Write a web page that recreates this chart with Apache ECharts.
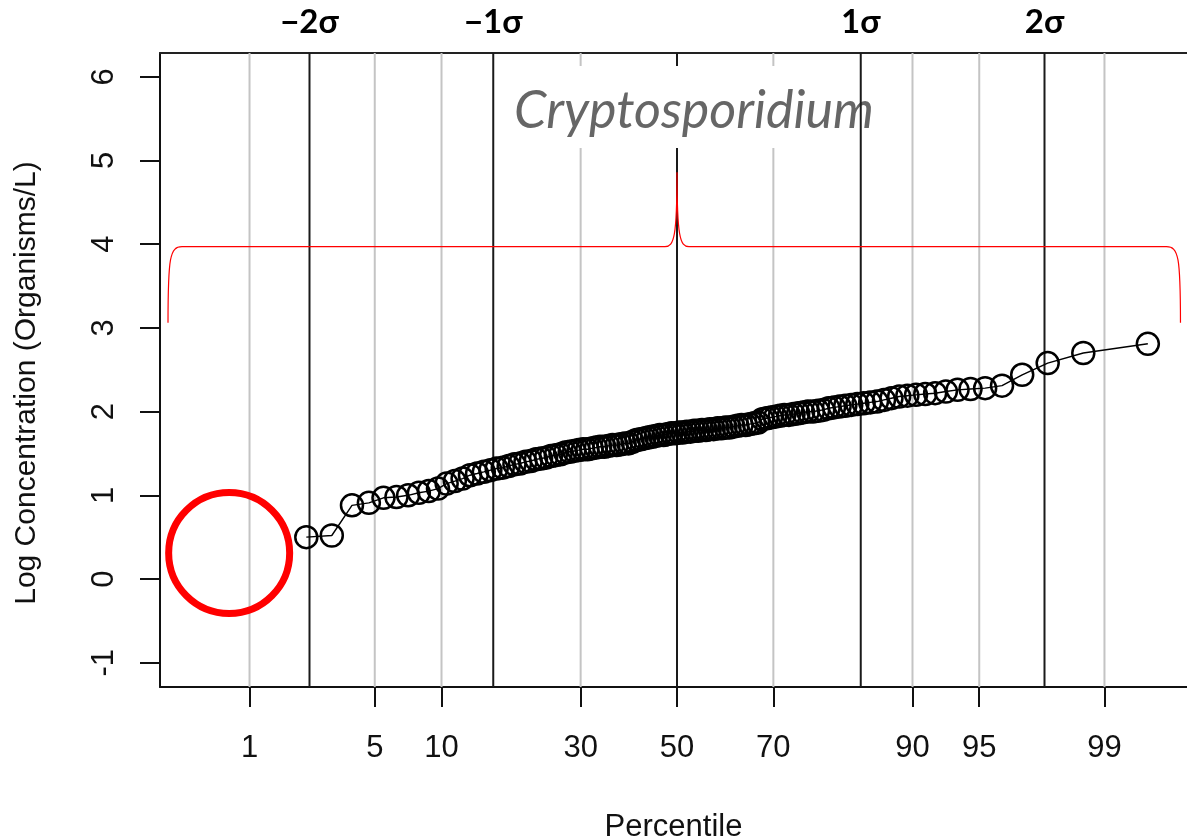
<!DOCTYPE html>
<html>
<head>
<meta charset="utf-8">
<title>Cryptosporidium probability plot</title>
<script src="https://cdn.jsdelivr.net/npm/echarts@6/dist/echarts.min.js"></script>
<style>
  html, body { margin: 0; padding: 0; background: #fff; }
  #chart { width: 1187px; height: 838px; }
</style>
</head>
<body>
<div id="chart"></div>
<script>
// Percentile tick labels on the probability (normal-score) axis
const percentileTicks = [1, 5, 10, 30, 50, 70, 90, 95, 99];
// Standard-deviation reference lines and their labels
const sigmaTicks = [-2, -1, 1, 2];
const sigmaLabels = ['\u22122\u03c3', '\u22121\u03c3', '1\u03c3', '2\u03c3'];
// Log concentration axis ticks
const yTicks = [-1, 0, 1, 2, 3, 4, 5, 6];

// Samples: total count, and the rank of the lowest detected value
const sampleSize = 120;
const firstDetectedRank = 3;
// Sorted log10 concentrations (organisms/L) for ranks 3..120
const logConcentration = [
  0.50, 0.52, 0.88, 0.91, 0.97, 0.98, 1.00, 1.03,
  1.05, 1.08, 1.14, 1.17, 1.20, 1.24, 1.26, 1.28, 1.30, 1.32,
  1.33, 1.35, 1.37, 1.38, 1.40, 1.41, 1.43, 1.44, 1.45, 1.47,
  1.48, 1.49, 1.51, 1.52, 1.53, 1.54, 1.55, 1.55, 1.56, 1.57,
  1.58, 1.58, 1.59, 1.60, 1.60, 1.61, 1.62, 1.62, 1.64, 1.66,
  1.67, 1.68, 1.69, 1.70, 1.71, 1.72, 1.72, 1.73, 1.74, 1.74,
  1.75, 1.75, 1.76, 1.76, 1.77, 1.77, 1.78, 1.78, 1.79, 1.79,
  1.80, 1.80, 1.81, 1.81, 1.82, 1.83, 1.84, 1.84, 1.85, 1.86,
  1.87, 1.91, 1.92, 1.93, 1.94, 1.95, 1.96, 1.96, 1.97, 1.98,
  1.99, 2.00, 2.00, 2.01, 2.02, 2.04, 2.05, 2.06, 2.07, 2.08,
  2.09, 2.10, 2.11, 2.12, 2.14, 2.16, 2.18, 2.19, 2.20, 2.21,
  2.22, 2.24, 2.26, 2.27, 2.28, 2.31, 2.44, 2.58, 2.70, 2.81
];

// Annotation: where the non-detects would fall [percentile, log conc]
const censoredMark = [0.74, 0.31];
// Annotation brace: normal scores of left end, tip, right end; and its levels
const braceZ = [-2.77, 0, 2.74];
const braceLevels = [3.06, 3.97, 4.86];

const titleText = 'Cryptosporidium';
const xName = 'Percentile';
const yName = 'Log Concentration (Organisms/L)';

// Inverse standard normal CDF (Acklam's rational approximation)
function qnorm(p) {
  const a = [-3.969683028665376e+01, 2.209460984245205e+02, -2.759285104469687e+02,
             1.383577518672690e+02, -3.066479806614716e+01, 2.506628277459239e+00];
  const b = [-5.447609879822406e+01, 1.615858368580409e+02, -1.556989798598866e+02,
             6.680131188771972e+01, -1.328068155288572e+01];
  const c = [-7.784894002430293e-03, -3.223964580411365e-01, -2.400758277161838e+00,
             -2.549732539343734e+00, 4.374664141464968e+00, 2.938163982698783e+00];
  const d = [7.784695709041462e-03, 3.224671290700398e-01, 2.445134137142996e+00,
             3.754408661907416e+00];
  const pl = 0.02425, ph = 1 - pl;
  let q, r;
  if (p < pl) {
    q = Math.sqrt(-2 * Math.log(p));
    return (((((c[0]*q+c[1])*q+c[2])*q+c[3])*q+c[4])*q+c[5]) /
           ((((d[0]*q+d[1])*q+d[2])*q+d[3])*q+1);
  }
  if (p <= ph) {
    q = p - 0.5; r = q * q;
    return (((((a[0]*r+a[1])*r+a[2])*r+a[3])*r+a[4])*r+a[5])*q /
           (((((b[0]*r+b[1])*r+b[2])*r+b[3])*r+b[4])*r+1);
  }
  q = Math.sqrt(-2 * Math.log(1 - p));
  return -(((((c[0]*q+c[1])*q+c[2])*q+c[3])*q+c[4])*q+c[5]) /
          ((((d[0]*q+d[1])*q+d[2])*q+d[3])*q+1);
}

// Blom plotting position of a rank, as a normal score
function rankScore(rank) {
  return qnorm((rank - 0.375) / (sampleSize + 0.25));
}

const pctZ = percentileTicks.map(p => qnorm(p / 100));
const points = logConcentration.map((v, i) => [rankScore(firstDetectedRank + i), v]);

const X_MIN = -2.8136, X_MAX = 2.7755;
const Y_MIN = -1.29, Y_MAX = 6.284;

// percentile grid lines (grey) plus the median line (black)
const greyLines = pctZ.map((z, i) => [z, percentileTicks[i] === 50 ? 1 : 0]);
const sigmaLines = sigmaTicks.map(s => [s, 0]);

function verticalLine(color) {
  return function (params, api) {
    const z = api.value(0);
    const isMedian = api.value(1) === 1;
    const top = api.coord([z, Y_MAX]);
    const bottom = api.coord([z, Y_MIN]);
    return {
      type: 'line',
      shape: { x1: top[0], y1: top[1], x2: bottom[0], y2: bottom[1] },
      style: { stroke: isMedian ? '#1a1a1a' : color, lineWidth: 2 }
    };
  };
}

function labelFor(values, labels, v) {
  const i = values.findIndex(t => Math.abs(t - v) < 1e-6);
  return i >= 0 ? String(labels[i]) : '';
}

const chart = echarts.init(document.getElementById('chart'), null, { renderer: 'canvas' });

const axisFont = 'Liberation Sans, Arial, Helvetica, sans-serif';

chart.setOption({
  animation: false,
  backgroundColor: '#ffffff',
  title: {
    text: titleText,
    left: 500,
    top: 66,
    z: 2,
    padding: [19, 14, 11, 14],
    backgroundColor: '#ffffff',
    textStyle: {
      fontFamily: 'Lato, sans-serif',
      fontStyle: 'italic',
      fontWeight: 'normal',
      fontSize: 52,
      color: '#666666'
    }
  },
  grid: {
    left: 160, right: 0, top: 53, bottom: 151,
    containLabel: false,
    outerBoundsMode: 'none'
  },
  xAxis: [
    {
      type: 'value',
      position: 'bottom',
      min: X_MIN,
      max: X_MAX,
      name: xName,
      nameLocation: 'middle',
      nameGap: 125,
      nameTextStyle: { fontFamily: axisFont, fontSize: 31, color: '#111' },
      axisLine: { show: true, onZero: false, lineStyle: { color: '#111', width: 2 } },
      axisTick: { show: true, customValues: pctZ, length: 20, lineStyle: { color: '#111', width: 2 } },
      axisLabel: {
        customValues: pctZ,
        formatter: v => labelFor(pctZ, percentileTicks, v),
        fontFamily: axisFont, fontSize: 31, color: '#111', margin: 46
      },
      splitLine: { show: false }
    },
    {
      type: 'value',
      position: 'top',
      min: X_MIN,
      max: X_MAX,
      axisLine: { show: true, onZero: false, lineStyle: { color: '#222', width: 2 } },
      axisTick: { show: false },
      axisLabel: {
        customValues: sigmaTicks,
        formatter: v => labelFor(sigmaTicks, sigmaLabels, v),
        fontFamily: 'Lato, sans-serif', fontWeight: 'bold', fontSize: 33, color: '#000', margin: 14
      },
      splitLine: { show: false }
    }
  ],
  yAxis: {
    type: 'value',
    min: Y_MIN,
    max: Y_MAX,
    name: yName,
    nameLocation: 'middle',
    nameGap: 118,
    nameRotate: 90,
    nameTextStyle: { fontFamily: axisFont, fontSize: 30, color: '#111', padding: [0, 26, 0, 0] },
    axisLine: { show: true, onZero: false, lineStyle: { color: '#111', width: 2 } },
    axisTick: { show: true, customValues: yTicks, length: 20, lineStyle: { color: '#111', width: 2 } },
    axisLabel: {
      customValues: yTicks,
      rotate: 90,
      fontFamily: axisFont, fontSize: 31, color: '#111', margin: 40
    },
    splitLine: { show: false }
  },
  series: [
    {
      // percentile grid lines, under the title box
      type: 'custom',
      z: 1,
      silent: true,
      clip: true,
      renderItem: verticalLine('#c4c4c4'),
      data: greyLines
    },
    {
      // sigma reference lines, over the title box
      type: 'custom',
      z: 3,
      silent: true,
      clip: true,
      renderItem: verticalLine('#1a1a1a'),
      data: sigmaLines
    },
    {
      type: 'line',
      z: 4,
      silent: true,
      data: points,
      symbol: 'circle',
      symbolSize: 22,
      showAllSymbol: true,
      lineStyle: { color: '#000', width: 1.4 },
      itemStyle: { color: 'rgba(0,0,0,0)', borderColor: '#000', borderWidth: 2.5 }
    },
    {
      // ring around the region of non-detects
      type: 'scatter',
      z: 5,
      silent: true,
      data: [[qnorm(censoredMark[0] / 100), censoredMark[1]]],
      symbol: 'circle',
      symbolSize: 121,
      itemStyle: { color: 'rgba(0,0,0,0)', borderColor: '#ff0000', borderWidth: 7, opacity: 1 }
    },
    {
      // brace spanning the detected range
      type: 'custom',
      z: 5,
      silent: true,
      clip: false,
      data: [[braceZ[1], braceLevels[1]]],
      renderItem: function (params, api) {
        const l0 = api.coord([braceZ[0], braceLevels[0]]);
        const lv = api.coord([braceZ[0], braceLevels[1]]);
        const tip = api.coord([braceZ[1], braceLevels[2]]);
        const r0 = api.coord([braceZ[2], braceLevels[0]]);
        const y1 = lv[1];
        const bend = 14, mid = 12;
        const d = [
          'M', l0[0], l0[1],
          'C', l0[0], y1 + 10, l0[0] + 2, y1, l0[0] + bend, y1,
          'L', tip[0] - mid, y1,
          'C', tip[0] - 3, y1, tip[0], y1 - 10, tip[0], tip[1],
          'C', tip[0], y1 - 10, tip[0] + 3, y1, tip[0] + mid, y1,
          'L', r0[0] - bend, y1,
          'C', r0[0] - 2, y1, r0[0], y1 + 10, r0[0], r0[1]
        ].join(' ');
        return {
          type: 'path',
          shape: { pathData: d },
          style: { stroke: '#ff0000', fill: null, lineWidth: 1.2 }
        };
      }
    }
  ]
});
</script>
</body>
</html>
